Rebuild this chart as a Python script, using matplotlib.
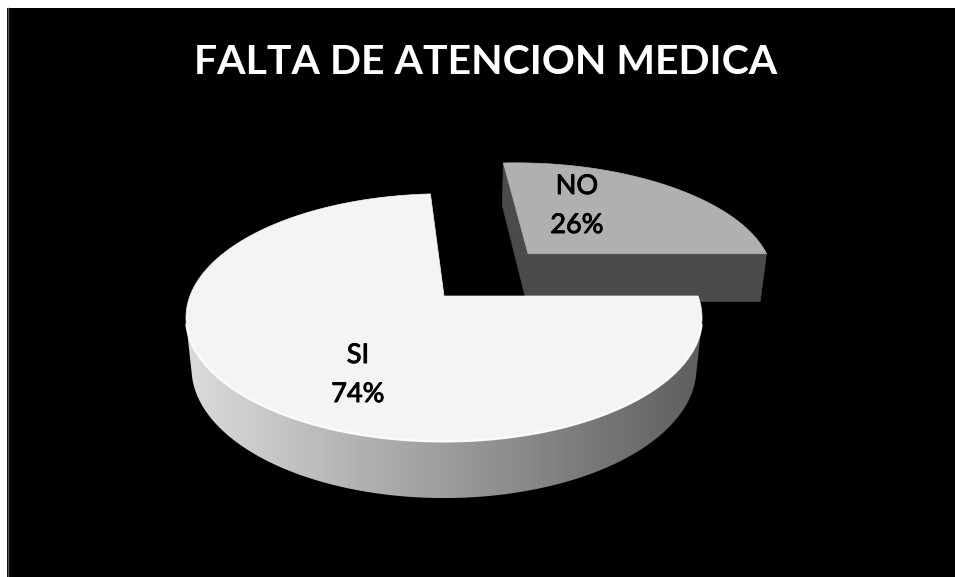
import numpy as np
import matplotlib
matplotlib.use('Agg')
import matplotlib.pyplot as plt
import matplotlib.patheffects as pe
from matplotlib.patches import Polygon, Rectangle
from matplotlib.colors import LinearSegmentedColormap

# Datos
titulo = 'FALTA DE ATENCION MEDICA'
categorias = ['SI', 'NO']
valores = [74, 26]

# Estilo
explode = [0.0, 0.515]
color_tapa = ['#f4f4f4', '#b0b0b0']
color_lado = [('#dcdcdc', '#5e5e5e'), ('#4b4b4b', '#4b4b4b')]
color_corte = ['#8a8a8a', '#4b4b4b']
pos_etiqueta = [(358, 375), (577, 206)]
sep_lineas = 39

W, H = 955, 577
fig = plt.figure(figsize=(W / 100, H / 100), dpi=100)
fig.patch.set_facecolor('white')
ax = fig.add_axes([0, 0, 1, 1])
ax.set_xlim(0, W)
ax.set_ylim(H, 0)
ax.axis('off')

# Fondo negro con borde gris a la izquierda
ax.add_patch(Rectangle((7, 8), W - 7, H - 8, facecolor='black', edgecolor='none', zorder=0))
ax.plot([7.5, 7.5], [8, H], color='#5a5a5a', lw=1, zorder=1)

# Proyección en perspectiva del pastel 3D
CX, CY = 444, 296
F, DIST = 1283, 5.05
ELEV = np.radians(28.2)
ALTO = 0.228
s, c = np.sin(ELEV), np.cos(ELEV)
cam = np.array([0.0, -DIST * c, DIST * s])


def proj(x, y, z):
    depth = y * c - z * s + DIST
    X = F * x / depth
    Y = F * (y * s + z * c) / depth
    return np.column_stack([CX + X, CY - Y])


def visible(normal, punto):
    return np.dot(normal, cam - punto) > 0


total = sum(valores)
angulos = []
inicio = 360.0
for v in valores:
    fin = inicio - 360.0 * v / total
    angulos.append((fin, inicio))
    inicio = fin

# orden de dibujo: de atrás hacia adelante
def prof(i):
    t1, t2 = np.radians(angulos[i])
    m = (t1 + t2) / 2
    return -(explode[i] * np.sin(m))

orden = sorted(range(len(valores)), key=prof)

z = 2
for i in orden:
    t1, t2 = np.radians(angulos[i])
    m = (t1 + t2) / 2
    ox, oy = explode[i] * np.cos(m), explode[i] * np.sin(m)
    th = np.linspace(t1, t2, 400)
    xs, ys = ox + np.cos(th), oy + np.sin(th)

    # pared exterior visible
    vis = np.array([visible(np.array([np.cos(t), np.sin(t), 0]),
                            np.array([x, y, 0])) for t, x, y in zip(th, xs, ys)])
    if vis.any():
        idx = np.where(vis)[0]
        a, b = idx[0], idx[-1] + 1
        arriba = proj(xs[a:b], ys[a:b], np.zeros(b - a))
        abajo = proj(xs[a:b], ys[a:b], -ALTO * np.ones(b - a))
        pts = np.vstack([arriba, abajo[::-1]])
        pared = Polygon(pts, closed=True, facecolor='none', edgecolor='none', zorder=z)
        ax.add_patch(pared)
        cmap = LinearSegmentedColormap.from_list('lado', list(color_lado[i]))
        grad = np.linspace(0, 1, 256).reshape(1, -1)
        im = ax.imshow(grad, cmap=cmap, aspect='auto', zorder=z,
                       extent=(pts[:, 0].min(), pts[:, 0].max(), pts[:, 1].max(), pts[:, 1].min()),
                       interpolation='bilinear')
        im.set_clip_path(pared)
        ax.plot(arriba[:, 0], arriba[:, 1], color='white', lw=1.6, alpha=0.9, zorder=z + 2,
                solid_capstyle='round')

    # caras de corte
    for t, n in [(t1, np.array([np.sin(t1), -np.cos(t1), 0])),
                 (t2, np.array([-np.sin(t2), np.cos(t2), 0]))]:
        ex, ey = ox + np.cos(t), oy + np.sin(t)
        centro = np.array([(ox + ex) / 2, (oy + ey) / 2, -ALTO / 2])
        if visible(n, centro):
            pts = proj(np.array([ox, ex, ex, ox]), np.array([oy, ey, ey, oy]),
                       np.array([0, 0, -ALTO, -ALTO]))
            ax.add_patch(Polygon(pts, closed=True, facecolor=color_corte[i],
                                 edgecolor=color_corte[i], lw=0.5, zorder=z))

    # tapa
    tapa = proj(np.concatenate([[ox], xs]), np.concatenate([[oy], ys]), np.zeros(len(xs) + 1))
    ax.add_patch(Polygon(tapa, closed=True, facecolor=color_tapa[i],
                         edgecolor=color_tapa[i], lw=0.5, zorder=z + 1))
    z += 4

ax.set_xlim(0, W)
ax.set_ylim(H, 0)

# Etiquetas
grueso = [pe.withStroke(linewidth=0.7, foreground='black')]
for i, (cat, v) in enumerate(zip(categorias, valores)):
    x, y = pos_etiqueta[i]
    ax.text(x, y - sep_lineas / 2, cat, ha='center', va='center', fontsize=19.5,
            family='Lato', color='black', zorder=50, path_effects=grueso)
    ax.text(x, y + sep_lineas / 2, f'{v / total * 100:.0f}%', ha='center', va='center',
            fontsize=19.5, family='Lato', color='black', zorder=50, path_effects=grueso)

ax.text(486, 62, titulo, ha='center', va='center', fontsize=29.5, weight='bold',
        family='Lato', color='white', zorder=50)

fig.savefig('out.png', dpi=100, facecolor=fig.get_facecolor())
